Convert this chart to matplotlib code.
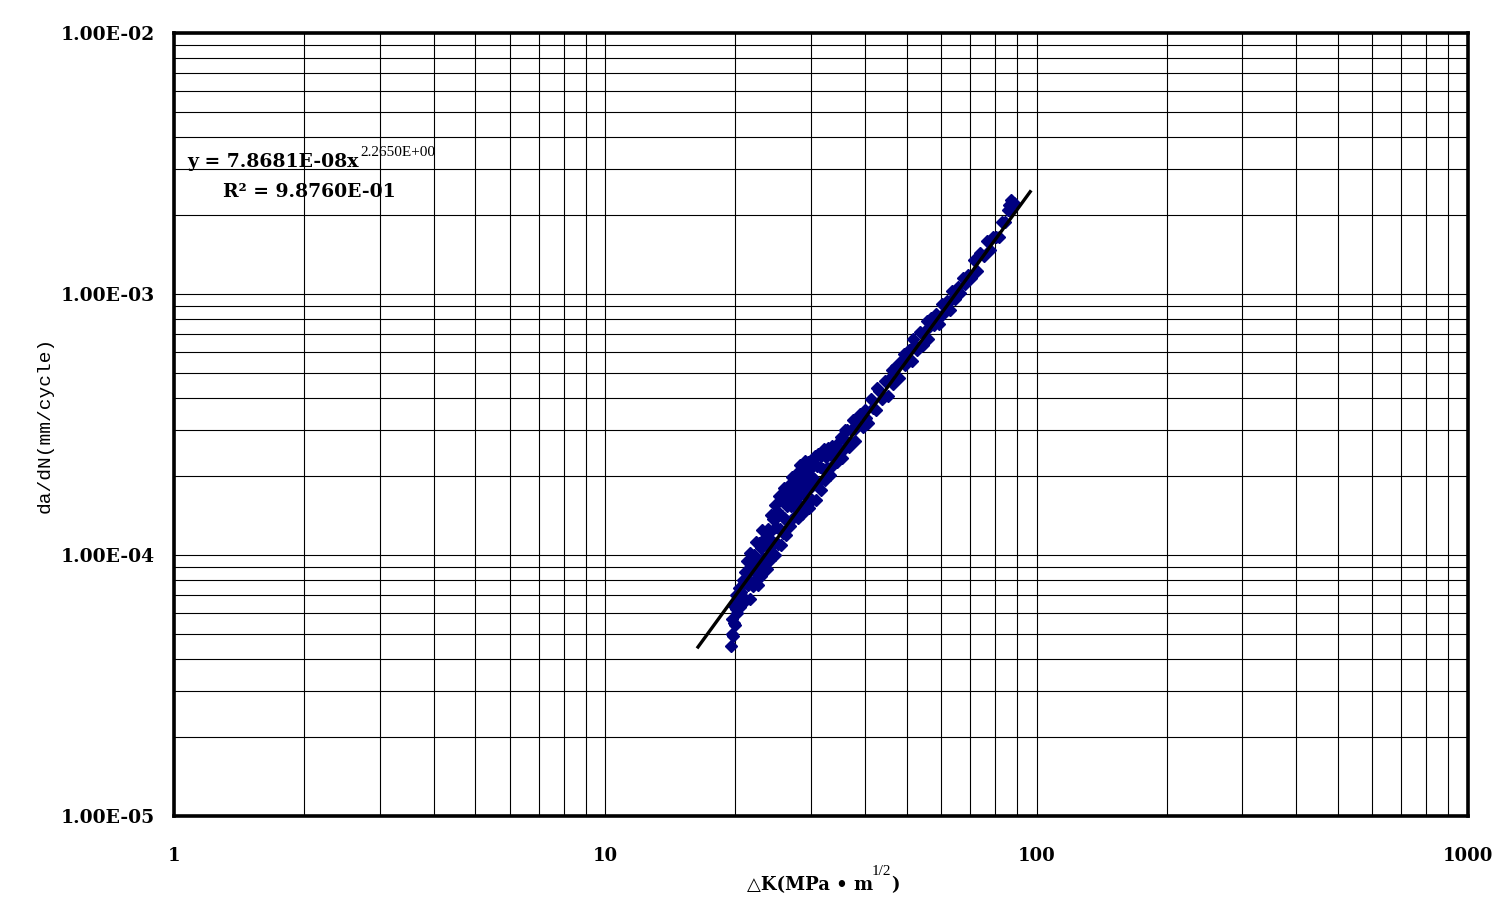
import matplotlib
matplotlib.use('Agg')
import matplotlib.pyplot as plt
import numpy as np
from matplotlib.ticker import LogLocator, FixedLocator, NullFormatter

# crack growth data: dK (MPa*m^1/2) and da/dN (mm/cycle)
delta_k = [19.6, 19.7, 19.7, 19.8, 19.9, 19.9, 20.0, 20.1, 20.1, 20.2,
           20.3, 20.4, 20.5, 20.6, 20.7, 20.8, 20.9, 21.0,
           21.1, 21.2, 21.3, 21.4, 21.5, 21.6, 21.7, 21.8, 21.9, 22.0,
           22.1, 22.2, 22.3, 22.4, 22.5, 22.6, 22.7, 22.8, 22.9, 23.0,
           23.1, 23.2, 23.3, 23.4, 23.5, 23.6, 23.7, 23.8, 23.9,
           24.0, 24.1, 24.2, 24.3, 24.4, 24.5, 24.6, 24.7, 24.8, 24.9,
           25.0, 25.1, 25.2, 25.3, 25.4, 25.5, 25.6, 25.7, 25.8, 25.9,
           26.0, 26.1, 26.2, 26.3, 26.4, 26.5, 26.6, 26.7, 26.8, 26.9,
           27.0, 27.1, 27.2, 27.3, 27.4, 27.5, 27.6, 27.7, 27.8, 27.9,
           28.0, 28.1, 28.2, 28.3, 28.4, 28.5, 28.6, 28.7, 28.8, 28.9,
           29.0, 29.1, 29.2, 29.3, 29.4, 29.5, 29.6, 29.7, 29.8, 29.9,
           30.0, 30.2, 30.3, 30.5, 30.6, 30.8, 30.9, 31.1, 31.2, 31.4,
           31.6, 31.7, 31.9, 32.1, 32.3, 32.5, 32.7, 32.9, 33.1, 33.3,
           33.5, 33.7, 33.9,
           34.0, 34.2, 34.5, 34.8, 35.1, 35.4, 35.7, 35.9, 36.0, 36.4,
           36.8, 37.2, 37.6, 37.9, 38.0, 38.5, 39.0, 39.5, 40.0, 40.3,
           40.6, 41.2, 41.8, 42.4, 42.7, 43.0, 43.7, 44.4, 45.1, 45.8,
           46.2, 46.5, 47.2, 48.0, 48.8, 49.2, 49.6,
           50.5, 51.3, 51.7, 52.1, 52.9, 53.7, 54.5, 55.3, 55.7, 56.1,
           56.9, 57.7, 58.5, 58.9, 59.3, 60.2, 61.1, 62.0, 62.9, 63.4,
           63.8, 64.7, 65.6, 66.5, 67.4, 68.3, 69.2,
           70.3, 71.5, 72.7, 74.0, 75.3, 76.6, 77.9, 79.2, 80.5, 81.8,
           83.1, 84.4, 85.6, 86.3, 86.8, 87.4, 87.8, 88.6]
dadn = [4.5e-5, 5.0e-5, 5.7e-5, 4.9e-5, 5.5e-5, 6.4e-5, 5.4e-5, 6.2e-5, 7.0e-5, 6.0e-5,
        6.8e-5, 7.5e-5, 6.3e-5, 7.2e-5, 6.8e-5, 8.0e-5, 6.8e-5, 7.8e-5,
        8.6e-5, 6.7e-5, 9.5e-5, 7.7e-5, 8.6e-5, 6.8e-5, 1.02e-4, 7.8e-5, 9.2e-5, 7.6e-5,
        1.00e-4, 8.6e-5, 1.12e-4, 8.1e-5, 9.6e-5, 7.7e-5, 1.11e-4, 9.0e-5, 1.06e-4, 8.3e-5,
        1.25e-4, 9.7e-5, 8.9e-5, 1.16e-4, 9.4e-5, 1.09e-4, 8.8e-5, 1.26e-4, 1.06e-4,
        1.21e-4, 9.6e-5, 1.42e-4, 1.13e-4, 1.01e-4, 1.37e-4, 1.11e-4, 1.55e-4, 1.00e-4, 1.28e-4,
        1.48e-4, 1.10e-4, 1.41e-4, 1.68e-4, 1.26e-4, 1.09e-4, 1.62e-4, 1.41e-4, 1.21e-4, 1.81e-4,
        1.39e-4, 1.61e-4, 1.19e-4, 1.76e-4, 1.54e-4, 1.34e-4, 1.86e-4, 1.63e-4, 1.29e-4, 1.78e-4,
        1.54e-4, 1.99e-4, 1.74e-4, 1.38e-4, 1.92e-4, 1.66e-4, 1.51e-4, 2.04e-4, 1.79e-4, 1.39e-4,
        1.94e-4, 1.68e-4, 2.21e-4, 1.55e-4, 1.94e-4, 2.14e-4, 1.44e-4, 1.86e-4, 2.11e-4, 1.71e-4,
        2.29e-4, 1.95e-4, 1.57e-4, 2.15e-4, 1.87e-4, 2.28e-4, 1.52e-4, 2.11e-4, 1.80e-4, 2.25e-4,
        2.01e-4, 1.63e-4, 2.25e-4, 1.95e-4, 2.40e-4, 1.63e-4, 2.20e-4, 1.89e-4, 2.43e-4, 2.17e-4,
        1.78e-4, 2.40e-4, 2.13e-4, 2.54e-4, 1.94e-4, 2.38e-4, 2.15e-4, 2.58e-4, 2.03e-4, 2.42e-4,
        2.62e-4, 2.22e-4, 2.49e-4,
        2.36e-4, 2.63e-4, 2.27e-4, 2.56e-4, 2.84e-4, 2.36e-4, 2.79e-4, 3.02e-4, 2.58e-4, 3.02e-4,
        2.60e-4, 3.01e-4, 3.29e-4, 3.05e-4, 2.74e-4, 3.19e-4, 3.48e-4, 3.09e-4, 3.58e-4, 3.36e-4,
        3.20e-4, 3.95e-4, 3.67e-4, 3.59e-4, 4.35e-4, 4.26e-4, 3.97e-4, 4.66e-4, 4.08e-4, 4.78e-4,
        5.10e-4, 4.52e-4, 5.31e-4, 4.75e-4, 5.57e-4, 5.89e-4, 5.34e-4,
        6.12e-4, 5.52e-4, 6.70e-4, 6.38e-4, 6.10e-4, 7.17e-4, 6.40e-4, 7.25e-4, 7.90e-4, 6.70e-4,
        8.11e-4, 7.60e-4, 8.40e-4, 8.04e-4, 7.67e-4, 9.12e-4, 8.47e-4, 9.39e-4, 8.68e-4, 9.50e-4,
        1.03e-3, 9.55e-4, 1.06e-3, 1.01e-3, 1.15e-3, 1.09e-3, 1.18e-3,
        1.15e-3, 1.35e-3, 1.23e-3, 1.43e-3, 1.40e-3, 1.59e-3, 1.47e-3, 1.65e-3, 1.66e-3, 1.66e-3,
        1.89e-3, 1.89e-3, 2.10e-3, 2.20e-3, 2.08e-3, 2.30e-3, 2.22e-3, 2.23e-3]

# power-law trendline printed on the chart
fit_coef = 7.8681e-08
fit_exp = 2.2650
fit_span = [16.4, 96.6]

x_ticks = [1, 10, 100, 1000]
x_labels = ['1', '10', '100', '1000']
y_ticks = [1e-5, 1e-4, 1e-3, 1e-2]
y_labels = ['1.00E-05', '1.00E-04', '1.00E-03', '1.00E-02']

serif_bold = dict(fontfamily='DejaVu Serif', fontweight='bold')

fig = plt.figure(figsize=(15.12, 9.23), dpi=100)
ax = fig.add_axes([174 / 1512, 1 - 816 / 923, (1468 - 174) / 1512, (816 - 33) / 923])

ax.set_xscale('log')
ax.set_yscale('log')
ax.set_xlim(1, 1000)
ax.set_ylim(1e-5, 1e-2)

ax.plot(delta_k, dadn, linestyle='none', marker='D', ms=5.8,
        color='#000080', mec='#000080', zorder=3)

fit_x = np.geomspace(fit_span[0], fit_span[1], 60)
ax.plot(fit_x, fit_coef * fit_x ** fit_exp, color='black', lw=2.4, zorder=4)

ax.xaxis.set_major_locator(FixedLocator(x_ticks))
ax.yaxis.set_major_locator(FixedLocator(y_ticks))
ax.xaxis.set_minor_locator(LogLocator(base=10, subs=range(2, 10)))
ax.yaxis.set_minor_locator(LogLocator(base=10, subs=range(2, 10)))
ax.xaxis.set_minor_formatter(NullFormatter())
ax.yaxis.set_minor_formatter(NullFormatter())
ax.set_xticklabels(x_labels, fontsize=13, **serif_bold)
ax.set_yticklabels(y_labels, fontsize=13.5, **serif_bold)
ax.tick_params(which='both', length=0)
ax.tick_params(axis='x', pad=22)
ax.tick_params(axis='y', pad=14)

ax.grid(which='both', color='black', lw=0.8)
ax.set_axisbelow(True)
for sp in ax.spines.values():
    sp.set_linewidth(2.6)
    sp.set_zorder(5)

ax.set_ylabel('da/dN(mm/cycle)', fontfamily='Liberation Mono', fontsize=14, labelpad=5)

# x label, built in pieces so the superscript can sit beside the bold text
xl = fig.text(747 / 1512, 1 - 890 / 923, '△K(MPa • m', family=['DejaVu Serif', 'DejaVu Sans'],
              fontweight='bold', fontsize=13, va='baseline')
xl_sup = ax.annotate('1/2', xy=(1, 1 - 875 / 923), xycoords=(xl, 'figure fraction'),
                     xytext=(-1, 0), textcoords='offset points',
                     fontfamily='Liberation Serif', fontsize=11, va='baseline', ha='left')
ax.annotate(')', xy=(1, 1 - 890 / 923), xycoords=(xl_sup, 'figure fraction'),
            fontsize=13, va='baseline', ha='left', **serif_bold)

# trendline equation
eq = fig.text(187 / 1512, 1 - 167 / 923, 'y = 7.8681E-08x', fontsize=13.5,
              va='baseline', **serif_bold)
ax.annotate('2.2650E+00', xy=(1, 1 - 156 / 923), xycoords=(eq, 'figure fraction'),
            xytext=(1, 0), textcoords='offset points',
            fontfamily='Liberation Serif', fontsize=11, va='baseline', ha='left')
fig.text(223 / 1512, 1 - 197 / 923, 'R² = 9.8760E-01', fontsize=13.5,
         va='baseline', **serif_bold)

fig.savefig('out.png', dpi=100, facecolor='white')
